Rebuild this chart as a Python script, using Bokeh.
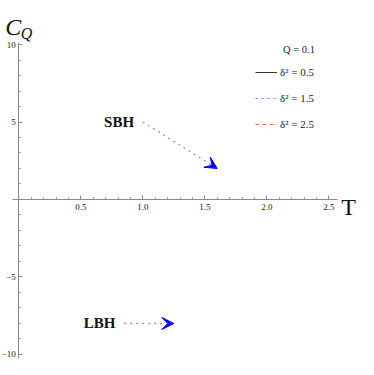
import math
from bokeh.plotting import figure
from bokeh.models import (Range1d, FixedTicker, Label, Arrow, VeeHead, Legend, LegendItem)
from bokeh.embed import file_html
from bokeh.resources import INLINE

# ---- data ----
x_major = [0.5, 1.0, 1.5, 2.0, 2.5]
x_major_labels = ["0.5", "1.0", "1.5", "2.0", "2.5"]
x_minor = [0.1, 0.2, 0.3, 0.4, 0.6, 0.7, 0.8, 0.9, 1.1, 1.2, 1.3, 1.4, 1.6, 1.7, 1.8, 1.9,
           2.1, 2.2, 2.3, 2.4]
y_major = [-10, -5, 5, 10]
y_major_labels = ["\u221210", "\u22125", "5", "10"]
y_minor = [-9, -8, -7, -6, -4, -3, -2, -1, 1, 2, 3, 4, 6, 7, 8, 9]

legend_title = "Q = 0.1"
series_labels = ["\u03b4\u00b2 = 0.5", "\u03b4\u00b2 = 1.5", "\u03b4\u00b2 = 2.5"]
# the curves themselves do not appear inside the shown window (no visible values)
series_T = [[math.nan], [math.nan], [math.nan]]
series_CQ = [[math.nan], [math.nan], [math.nan]]

arrow_names = ["SBH", "LBH"]
arrow_x0 = [1.0, 0.85]
arrow_y0 = [5.0, -8.0]
arrow_x1 = [1.6, 1.25]
arrow_y1 = [2.0, -8.0]

SERIF = "Liberation Serif"

p = figure(width=358, height=359, output_backend="svg", toolbar_location=None,
           x_range=Range1d(-0.1476, 2.7395), y_range=Range1d(-10.323, 12.839),
           min_border=0, min_border_left=0, min_border_right=0,
           min_border_top=0, min_border_bottom=0)
p.outline_line_color = None
p.grid.visible = False
p.background_fill_color = "white"
p.border_fill_color = "white"

# axes crossing at the origin
xa = p.xaxis[0]
ya = p.yaxis[0]
xa.fixed_location = 0
ya.fixed_location = 0
xa.ticker = FixedTicker(ticks=x_major, minor_ticks=x_minor)
ya.ticker = FixedTicker(ticks=y_major, minor_ticks=y_minor)
xa.major_label_overrides = {t: l for t, l in zip(x_major, x_major_labels)}
ya.major_label_overrides = {t: l for t, l in zip(y_major, y_major_labels)}
xa.bounds = (-0.05, 2.57)
ya.bounds = (-10.25, 10.15)
for ax in (xa, ya):
    ax.axis_line_color = "#8a8a8a"
    ax.major_tick_line_color = "#8a8a8a"
    ax.minor_tick_line_color = "#8a8a8a"
    ax.major_tick_in = 4
    ax.major_tick_out = 0
    ax.minor_tick_in = 2
    ax.minor_tick_out = 0
    ax.major_label_text_font = SERIF
    ax.major_label_text_font_size = "9px"
    ax.major_label_text_color = "#222222"
xa.major_label_standoff = 5
ya.major_label_standoff = 3

# legend curves
styles = [dict(line_color="#333333", line_width=1),
          dict(line_color="#7070ff", line_width=1.2, line_dash="dotted"),
          dict(line_color="#ff6060", line_width=1.1, line_dash="4 3")]
items = []
for lab, xs, ys, st in zip(series_labels, series_T, series_CQ, styles):
    r = p.line(x=xs, y=ys, **st)
    items.append(LegendItem(label=lab, renderers=[r]))

legend = Legend(items=items, location=(255, 228), orientation="vertical",
                glyph_width=22, glyph_height=14, label_height=14, spacing=12,
                padding=0, margin=0, label_standoff=3,
                label_text_font=SERIF, label_text_font_size="11px",
                label_text_color="#222222",
                background_fill_alpha=0, border_line_alpha=0)
p.add_layout(legend, "center")

p.add_layout(Label(x=2.26, y=9.69, text=legend_title, text_font=SERIF,
                   text_font_size="10.5px", text_color="#222222", text_align="center",
                   text_baseline="alphabetic"))

# arrows
for name, x0, y0, x1, y1 in zip(arrow_names, arrow_x0, arrow_y0, arrow_x1, arrow_y1):
    p.add_layout(Arrow(x_start=x0, y_start=y0, x_end=x1, y_end=y1,
                       line_color="#8c8cff", line_width=1.3, line_dash="dotted",
                       end=VeeHead(size=12, fill_color="#0000ff", line_color="#0000ff",
                                   line_width=1)))
    p.add_layout(Label(x=x0 - 0.07, y=y0, text=name, text_font=SERIF,
                       text_font_size="15px", text_font_style="bold",
                       text_color="#111111", text_align="right",
                       text_baseline="middle"))

# axis titles
p.add_layout(Label(x=-0.109, y=11.16, text="C", text_font=SERIF, text_font_size="24px",
                   text_font_style="italic", text_color="#111111",
                   text_baseline="alphabetic"))
p.add_layout(Label(x=0.016, y=10.71, text="Q", text_font=SERIF, text_font_size="16px",
                   text_font_style="italic", text_color="#111111",
                   text_baseline="alphabetic"))
p.add_layout(Label(x=2.60, y=-0.49, text="T", text_font=SERIF, text_font_size="24px",
                   text_color="#111111", text_baseline="alphabetic"))

open("out.html", "w").write(file_html(p, INLINE))
